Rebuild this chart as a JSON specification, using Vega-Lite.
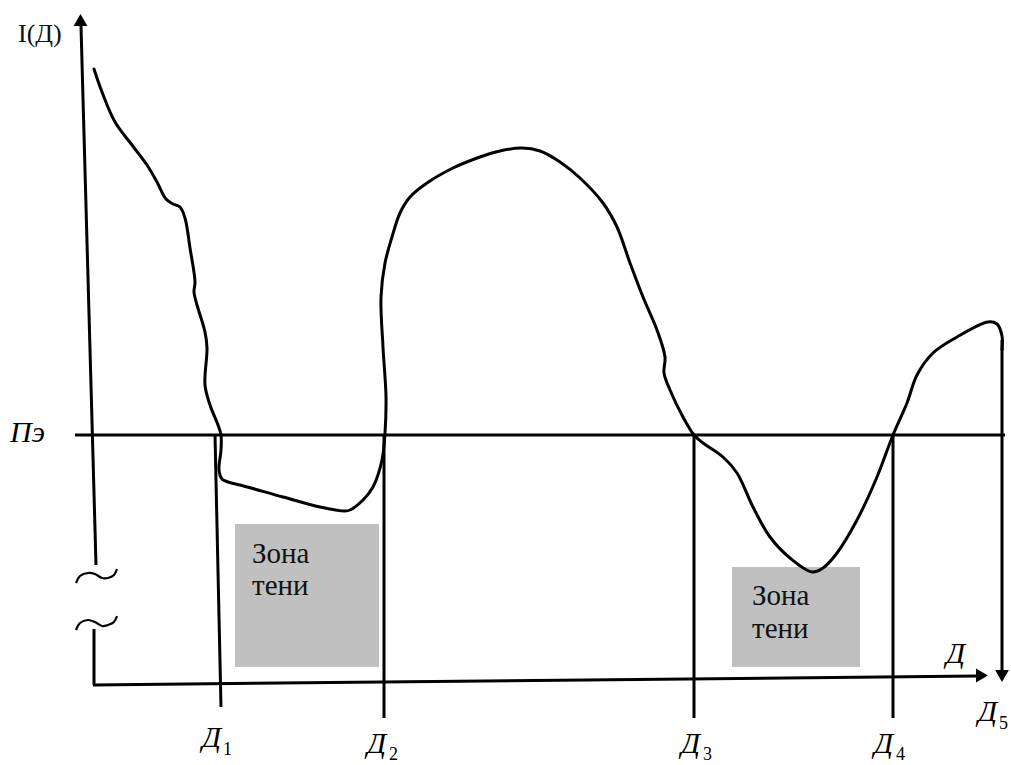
{
  "$schema": "https://vega.github.io/schema/vega-lite/v6.json",
  "width": 1011,
  "height": 765,
  "padding": 0,
  "autosize": {"type": "none"},
  "background": "white",
  "config": {"view": {"stroke": null}},
  "datasets": {
    "zones": [
      {"x": 235, "x2": 379, "y": 524, "y2": 667},
      {"x": 732, "x2": 860, "y": 567, "y2": 667}
    ],
    "segments": [
      {"name": "I axis upper", "x": 81, "y": 26, "x2": 96, "y2": 565},
      {"name": "I axis lower", "x": 94, "y": 629, "x2": 94, "y2": 685},
      {"name": "D axis", "x": 93, "y": 685, "x2": 977, "y2": 676},
      {"name": "Pe level", "x": 75, "y": 435, "x2": 1005, "y2": 435},
      {"name": "D1", "x": 215, "y": 435, "x2": 221, "y2": 707},
      {"name": "D2", "x": 384, "y": 435, "x2": 384, "y2": 718},
      {"name": "D3", "x": 694, "y": 435, "x2": 694, "y2": 718},
      {"name": "D4", "x": 893, "y": 435, "x2": 893, "y2": 718},
      {"name": "D5 drop", "x": 1002, "y": 340, "x2": 1002, "y2": 672}
    ],
    "curve": [
      {"i": 1, "x": 94, "y": 69},
      {"i": 2, "x": 102, "y": 92},
      {"i": 3, "x": 115, "y": 122},
      {"i": 4, "x": 132, "y": 145},
      {"i": 5, "x": 147, "y": 165},
      {"i": 6, "x": 157, "y": 182},
      {"i": 7, "x": 166, "y": 199},
      {"i": 8, "x": 173, "y": 204},
      {"i": 9, "x": 180, "y": 207},
      {"i": 10, "x": 185, "y": 218},
      {"i": 11, "x": 190, "y": 248},
      {"i": 12, "x": 195, "y": 282},
      {"i": 13, "x": 194, "y": 292},
      {"i": 14, "x": 197, "y": 305},
      {"i": 15, "x": 205, "y": 332},
      {"i": 16, "x": 207, "y": 348},
      {"i": 17, "x": 205, "y": 385},
      {"i": 18, "x": 210, "y": 405},
      {"i": 19, "x": 218, "y": 425},
      {"i": 20, "x": 221, "y": 435},
      {"i": 21, "x": 221, "y": 450},
      {"i": 22, "x": 219, "y": 470},
      {"i": 23, "x": 222, "y": 479},
      {"i": 24, "x": 228, "y": 482},
      {"i": 25, "x": 240, "y": 485},
      {"i": 26, "x": 283, "y": 497},
      {"i": 27, "x": 320, "y": 507},
      {"i": 28, "x": 345, "y": 511},
      {"i": 29, "x": 350, "y": 510},
      {"i": 30, "x": 363, "y": 500},
      {"i": 31, "x": 373, "y": 487},
      {"i": 32, "x": 382, "y": 460},
      {"i": 33, "x": 385, "y": 433},
      {"i": 34, "x": 386, "y": 397},
      {"i": 35, "x": 383, "y": 347},
      {"i": 36, "x": 381, "y": 297},
      {"i": 37, "x": 385, "y": 263},
      {"i": 38, "x": 392, "y": 237},
      {"i": 39, "x": 400, "y": 213},
      {"i": 40, "x": 410, "y": 197},
      {"i": 41, "x": 427, "y": 183},
      {"i": 42, "x": 453, "y": 168},
      {"i": 43, "x": 480, "y": 157},
      {"i": 44, "x": 500, "y": 151},
      {"i": 45, "x": 522, "y": 148},
      {"i": 46, "x": 540, "y": 151},
      {"i": 47, "x": 560, "y": 162},
      {"i": 48, "x": 580, "y": 178},
      {"i": 49, "x": 603, "y": 203},
      {"i": 50, "x": 617, "y": 227},
      {"i": 51, "x": 630, "y": 263},
      {"i": 52, "x": 643, "y": 297},
      {"i": 53, "x": 657, "y": 330},
      {"i": 54, "x": 665, "y": 357},
      {"i": 55, "x": 664, "y": 373},
      {"i": 56, "x": 670, "y": 390},
      {"i": 57, "x": 683, "y": 417},
      {"i": 58, "x": 694, "y": 435},
      {"i": 59, "x": 703, "y": 443},
      {"i": 60, "x": 723, "y": 457},
      {"i": 61, "x": 737, "y": 473},
      {"i": 62, "x": 753, "y": 507},
      {"i": 63, "x": 770, "y": 537},
      {"i": 64, "x": 790, "y": 558},
      {"i": 65, "x": 812, "y": 572},
      {"i": 66, "x": 823, "y": 568},
      {"i": 67, "x": 837, "y": 553},
      {"i": 68, "x": 857, "y": 520},
      {"i": 69, "x": 877, "y": 477},
      {"i": 70, "x": 893, "y": 435},
      {"i": 71, "x": 907, "y": 403},
      {"i": 72, "x": 917, "y": 375},
      {"i": 73, "x": 933, "y": 353},
      {"i": 74, "x": 957, "y": 337},
      {"i": 75, "x": 988, "y": 322},
      {"i": 76, "x": 997, "y": 324},
      {"i": 77, "x": 1002, "y": 336},
      {"i": 78, "x": 1002, "y": 350}
    ],
    "breaks": [
      {"k": "upper", "i": 1, "x": 76, "y": 583},
      {"k": "upper", "i": 2, "x": 80, "y": 576},
      {"k": "upper", "i": 3, "x": 88, "y": 573},
      {"k": "upper", "i": 4, "x": 95, "y": 574},
      {"k": "upper", "i": 5, "x": 102, "y": 578},
      {"k": "upper", "i": 6, "x": 108, "y": 578},
      {"k": "upper", "i": 7, "x": 114, "y": 575},
      {"k": "upper", "i": 8, "x": 117, "y": 569},
      {"k": "lower", "i": 1, "x": 76, "y": 630},
      {"k": "lower", "i": 2, "x": 80, "y": 623},
      {"k": "lower", "i": 3, "x": 88, "y": 620},
      {"k": "lower", "i": 4, "x": 95, "y": 622},
      {"k": "lower", "i": 5, "x": 102, "y": 626},
      {"k": "lower", "i": 6, "x": 108, "y": 625},
      {"k": "lower", "i": 7, "x": 114, "y": 622},
      {"k": "lower", "i": 8, "x": 117, "y": 616}
    ],
    "arrows": [
      {"dir": "up", "x": 80.5, "y": 20},
      {"dir": "right", "x": 982, "y": 675.5},
      {"dir": "down", "x": 1002, "y": 676}
    ],
    "italicLabels": [
      {"t": "Д", "x": 202, "y": 747},
      {"t": "Д", "x": 367, "y": 753},
      {"t": "Д", "x": 681, "y": 753},
      {"t": "Д", "x": 874, "y": 753},
      {"t": "Д", "x": 978, "y": 721},
      {"t": "Д", "x": 946, "y": 663},
      {"t": "Пэ", "x": 10, "y": 442}
    ],
    "subscripts": [
      {"t": "1", "x": 223, "y": 755},
      {"t": "2", "x": 389, "y": 760},
      {"t": "3", "x": 703, "y": 760},
      {"t": "4", "x": 896, "y": 760},
      {"t": "5", "x": 999, "y": 729}
    ],
    "plainLabels": [
      {"t": "I(Д)", "x": 18, "y": 42, "size": "axis"},
      {"t": "Зона", "x": 252, "y": 563, "size": "zone"},
      {"t": "тени", "x": 252, "y": 595, "size": "zone"},
      {"t": "Зона", "x": 752, "y": 605, "size": "zone"},
      {"t": "тени", "x": 752, "y": 638, "size": "zone"}
    ]
  },
  "encoding": {
    "x": {"field": "x", "type": "quantitative", "axis": null, "scale": {"domain": [0, 1011], "nice": false, "zero": false}},
    "y": {"field": "y", "type": "quantitative", "axis": null, "scale": {"domain": [0, 765], "reverse": true, "nice": false, "zero": false}}
  },
  "layer": [
    {
      "data": {"name": "zones"},
      "mark": {"type": "rect", "color": "#c0c0c0"},
      "encoding": {"x2": {"field": "x2"}, "y2": {"field": "y2"}}
    },
    {
      "data": {"name": "segments"},
      "mark": {"type": "rule", "color": "black", "strokeWidth": 3},
      "encoding": {"x2": {"field": "x2"}, "y2": {"field": "y2"}}
    },
    {
      "data": {"name": "curve"},
      "mark": {"type": "line", "color": "black", "strokeWidth": 3, "interpolate": "catmull-rom", "strokeJoin": "round", "strokeCap": "round"},
      "encoding": {"order": {"field": "i", "type": "quantitative"}}
    },
    {
      "data": {"name": "breaks"},
      "mark": {"type": "line", "color": "black", "strokeWidth": 2.2, "interpolate": "catmull-rom"},
      "encoding": {"detail": {"field": "k"}, "order": {"field": "i", "type": "quantitative"}}
    },
    {
      "data": {"name": "arrows"},
      "mark": {"type": "point", "filled": true, "color": "black", "opacity": 1, "size": 190},
      "encoding": {
        "shape": {"field": "dir", "type": "nominal", "legend": null,
          "scale": {"domain": ["up", "right", "down"], "range": ["triangle-up", "triangle-right", "triangle-down"]}}
      }
    },
    {
      "data": {"name": "italicLabels"},
      "mark": {"type": "text", "font": "Liberation Serif", "fontStyle": "italic", "fontSize": 30, "align": "left", "baseline": "alphabetic", "color": "black"},
      "encoding": {"text": {"field": "t"}}
    },
    {
      "data": {"name": "subscripts"},
      "mark": {"type": "text", "font": "Liberation Serif", "fontSize": 18, "align": "left", "baseline": "alphabetic", "color": "black"},
      "encoding": {"text": {"field": "t"}}
    },
    {
      "data": {"name": "plainLabels"},
      "mark": {"type": "text", "font": "Liberation Serif", "align": "left", "baseline": "alphabetic", "color": "#111111"},
      "encoding": {
        "text": {"field": "t"},
        "size": {"field": "size", "type": "nominal", "legend": null, "scale": {"domain": ["axis", "zone"], "range": [26, 29]}}
      }
    }
  ]
}
